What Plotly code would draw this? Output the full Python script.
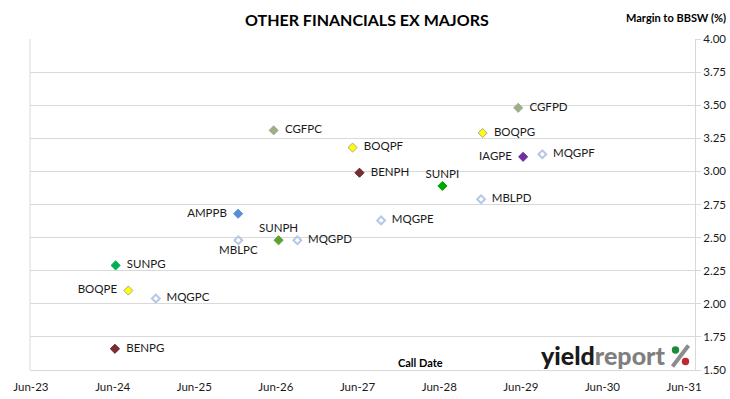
import plotly.graph_objects as go

# ---- data ----
codes = ["CGFPC", "BOQPF", "BENPH", "AMPPB", "MBLPC", "SUNPH", "MQGPD", "SUNPG", "BOQPE",
         "MQGPC", "BENPG", "CGFPD", "BOQPG", "IAGPE", "MQGPF", "SUNPI", "MBLPD", "MQGPE"]
call_dates = ["2026-05-22", "2027-05-10", "2027-06-10", "2025-12-14", "2025-12-15", "2026-06-13",
              "2026-09-05", "2024-06-14", "2024-08-10", "2024-12-11", "2024-06-11", "2029-05-20",
              "2028-12-12", "2029-06-11", "2029-09-05", "2028-06-15", "2028-12-05", "2027-09-15"]
margins = [3.31, 3.18, 2.99, 2.68, 2.48, 2.48, 2.48, 2.29, 2.10,
           2.04, 1.66, 3.48, 3.29, 3.11, 3.13, 2.89, 2.79, 2.63]

y_ticks = [1.50, 1.75, 2.00, 2.25, 2.50, 2.75, 3.00, 3.25, 3.50, 3.75, 4.00]
x_tick_labels = ["Jun-23", "Jun-24", "Jun-25", "Jun-26", "Jun-27", "Jun-28", "Jun-29", "Jun-30", "Jun-31"]
x_tick_dates = ["2023-06-01", "2024-06-01", "2025-06-01", "2026-06-01", "2027-06-01",
                "2028-06-01", "2029-06-01", "2030-06-01", "2031-06-01"]

# ---- styles (by issuer prefix / code) ----
issuer_style = {
    "CGF": dict(color="#9bb27e", line="#a6a6a6", lw=1),
    "BOQ": dict(color="#ffff00", line="#a6a6a6", lw=1),
    "BEN": dict(color="#7b2c2c", line="#5a1f1f", lw=1),
    "AMP": dict(color="#558ed5", line="#558ed5", lw=1),
    "MQG": dict(color="#ffffff", line="#b4c7e7", lw=2),
    "MBL": dict(color="#ffffff", line="#b4c7e7", lw=2),
    "IAG": dict(color="#7030a0", line="#7030a0", lw=1),
}
code_color = {"SUNPG": "#00b050", "SUNPH": "#5fa032", "SUNPI": "#00a800"}
label_pos = {"AMPPB": "middle left", "BOQPE": "middle left", "IAGPE": "middle left",
             "MBLPC": "bottom center", "SUNPH": "top center", "SUNPI": "top center"}

FONT = "Lato, sans-serif"

fig = go.Figure()
for c, d, m in zip(codes, call_dates, margins):
    if c in code_color:
        st = dict(color=code_color[c], line=code_color[c], lw=1)
    else:
        st = issuer_style[c[:3]]
    pos = label_pos.get(c, "middle right")
    fig.add_trace(go.Scatter(
        x=[d], y=[m], mode="markers+text", text=["  " + c + "  " if "middle" in pos else c],
        textposition=pos,
        textfont=dict(family=FONT, size=11.5, color="#1a1a1a"),
        marker=dict(symbol="diamond", size=7 if st["lw"] == 1 else 6, color=st["color"],
                    line=dict(color=st["line"], width=st["lw"])),
        showlegend=False, hoverinfo="skip", cliponaxis=False,
    ))

W, H = 730, 399
L, R, T, B = 30, 35, 39, 29
pw, ph = W - L - R, H - T - B

def px(xp, yp):
    return (xp - L) / pw, (H - B - yp) / ph

def ann(text, xp, yp, size, family=FONT, color="#000000", weight="normal", xanchor="center"):
    x, y = px(xp, yp)
    return dict(text=text, x=x, y=y, xref="paper", yref="paper", xanchor=xanchor,
                yanchor="middle", showarrow=False,
                font=dict(size=size, family=family, color=color, weight=weight))

def dot(xp, yp, r, color):
    x0, y0 = px(xp - r, yp + r)
    x1, y1 = px(xp + r, yp - r)
    return dict(type="circle", xref="paper", yref="paper", x0=x0, y0=y0, x1=x1, y1=y1,
                fillcolor=color, line=dict(width=0))

def seg(xa, ya, xb, yb, color, width):
    x0, y0 = px(xa, ya)
    x1, y1 = px(xb, yb)
    return dict(type="line", xref="paper", yref="paper", x0=x0, y0=y0, x1=x1, y1=y1,
                line=dict(color=color, width=width))

fig.update_layout(
    width=W, height=H,
    margin=dict(l=L, r=R, t=T, b=B, autoexpand=False),
    paper_bgcolor="white", plot_bgcolor="white",
    font=dict(family=FONT, size=11, color="#1a1a1a"),
    xaxis=dict(
        type="date", range=["2023-05-28", "2031-07-20"],
        tickvals=x_tick_dates, ticktext=x_tick_labels,
        showgrid=False, zeroline=False, automargin=False,
        showline=True, linecolor="#d9d9d9", linewidth=1,
        ticks="outside", ticklen=6, tickcolor="rgba(0,0,0,0)",
        tickfont=dict(size=11.5, family=FONT, color="#1a1a1a"),
    ),
    yaxis=dict(
        side="right", range=[1.5, 4.0], tickvals=y_ticks, tickformat=".2f",
        showgrid=True, gridcolor="#d9d9d9", gridwidth=1, zeroline=False, automargin=False,
        showline=True, linecolor="#d9d9d9", linewidth=1,
        ticks="outside", ticklen=5, tickcolor="#d9d9d9",
        tickfont=dict(size=11.5, family=FONT, color="#1a1a1a"),
    ),
    shapes=[
        dict(type="line", xref="paper", yref="paper", x0=0, x1=0, y0=0, y1=1,
             line=dict(color="#d9d9d9", width=1)),
    ],
    annotations=[
        ann("<b>OTHER FINANCIALS EX MAJORS</b>", 367, 19, 16),
        ann("<b>Margin to BBSW (%)</b>", 676, 18, 11),
        ann("<b>Call Date</b>", 421, 362, 11),
        ann("<span style='color:#1a1a1a'>yield</span><span style='color:#7f7f7f'>report</span>",
            667, 355, 25, weight=900, xanchor="right"),
    ],
)
# logo percent sign drawn as a slash with coloured dots
fig.add_shape(seg(688.5, 345.5, 672.5, 366.5, "#8c8c8c", 4))
fig.add_shape(dot(675.5, 350, 3.7, "#1e8a3c"))
fig.add_shape(dot(685.5, 361.5, 3.7, "#c0282d"))

fig.write_html("out.html", config={"displayModeBar": False},
               post_script="document.body.style.margin='0';")
